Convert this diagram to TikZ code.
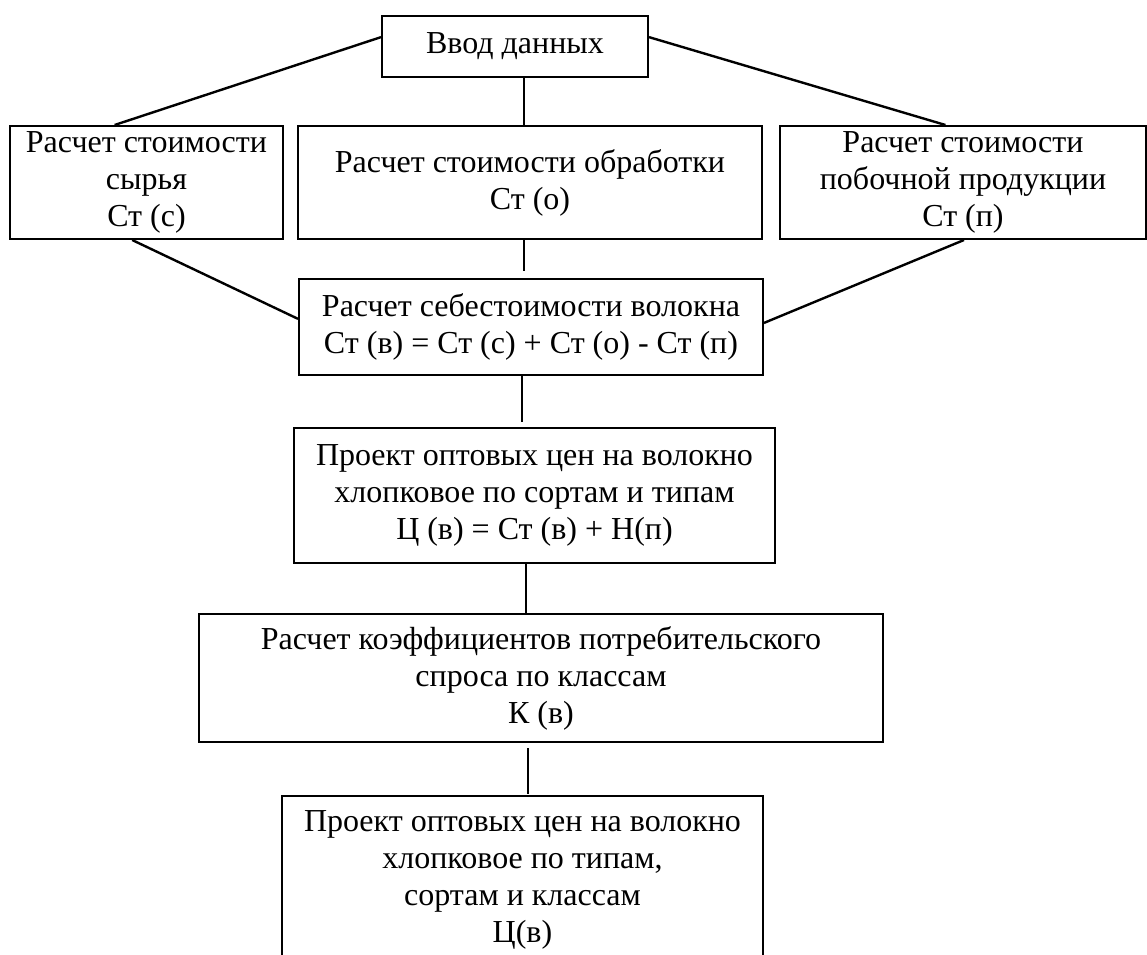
\documentclass[tikz,border=0pt]{standalone}
\usepackage{fontspec}
\setmainfont{Liberation Serif}
\usetikzlibrary{calc}
\begin{document}
\begin{tikzpicture}[x=0.75pt,y=-0.75pt,
  box/.style={draw,line width=1.5pt,rectangle,inner sep=0pt,align=center,
    font=\fontsize{24pt}{27.75pt}\selectfont},
  link/.style={line width=1.8pt}]
\useasboundingbox (0,0) rectangle (1147,955);
\clip (0,0) rectangle (1147,955);
\node[box,minimum width=199.5pt,minimum height=45.75pt] (top) at (515,46.5) {Ввод данных};
\node[box,minimum width=204.75pt,minimum height=84.75pt] (b1) at (146.5,182.5) {Расчет стоимости\\сырья\\Ст (с)};
\node[box,minimum width=348pt,minimum height=84.75pt] (b2) at (530,182.5) {Расчет стоимости обработки\\Ст (о)};
\node[box,minimum width=274.5pt,minimum height=84.75pt] (b3) at (963,182.5) {Расчет стоимости\\побочной продукции\\Ст (п)};
\node[box,minimum width=348pt,minimum height=72pt] (sb) at (531,327) {Расчет себестоимости волокна\\Ст (в) = Ст (с) + Ст (о) - Ст (п)};
\node[box,minimum width=360.75pt,minimum height=101.25pt] (p1) at (534.5,495.5) {Проект оптовых цен на волокно\\хлопковое по сортам и типам\\Ц (в) = Ст (в) + Н(п)};
\node[box,minimum width=513pt,minimum height=96pt] (k) at (541,678) {Расчет коэффициентов потребительского\\спроса по классам\\К (в)};
\node[box,minimum width=360.75pt,minimum height=126pt] (p2) at (522.5,880) {Проект оптовых цен на волокно\\хлопковое по типам,\\сортам и классам\\Ц(в)};
% connectors
\draw[link] (top.176) -- (b1.119);
\draw[link] (top.4) -- (b3.107.7);
\draw[link] ([xshift=6.75pt]top.south) -- ([xshift=6.75pt]top.south |- b2.north);
\draw[link] (b1.256.6) -- (sb.178);
\draw[link] (b3.271) -- (sb.1);
\draw[link,shorten >=5.25pt] ([xshift=-4.5pt]b2.south) -- ([xshift=-4.5pt]b2.south |- sb.north);
\draw[link,shorten >=3.75pt] ([xshift=-6.75pt]sb.south) -- ([xshift=-6.75pt]sb.south |- p1.north);
\draw[link] ([xshift=-6.4pt]p1.south) -- ([xshift=-6.4pt]p1.south |- k.north);
\draw[link,shorten <=3.75pt,shorten >=1pt] ([xshift=-9.75pt]k.south) -- ([xshift=-9.75pt]k.south |- p2.north);
\end{tikzpicture}
\end{document}
